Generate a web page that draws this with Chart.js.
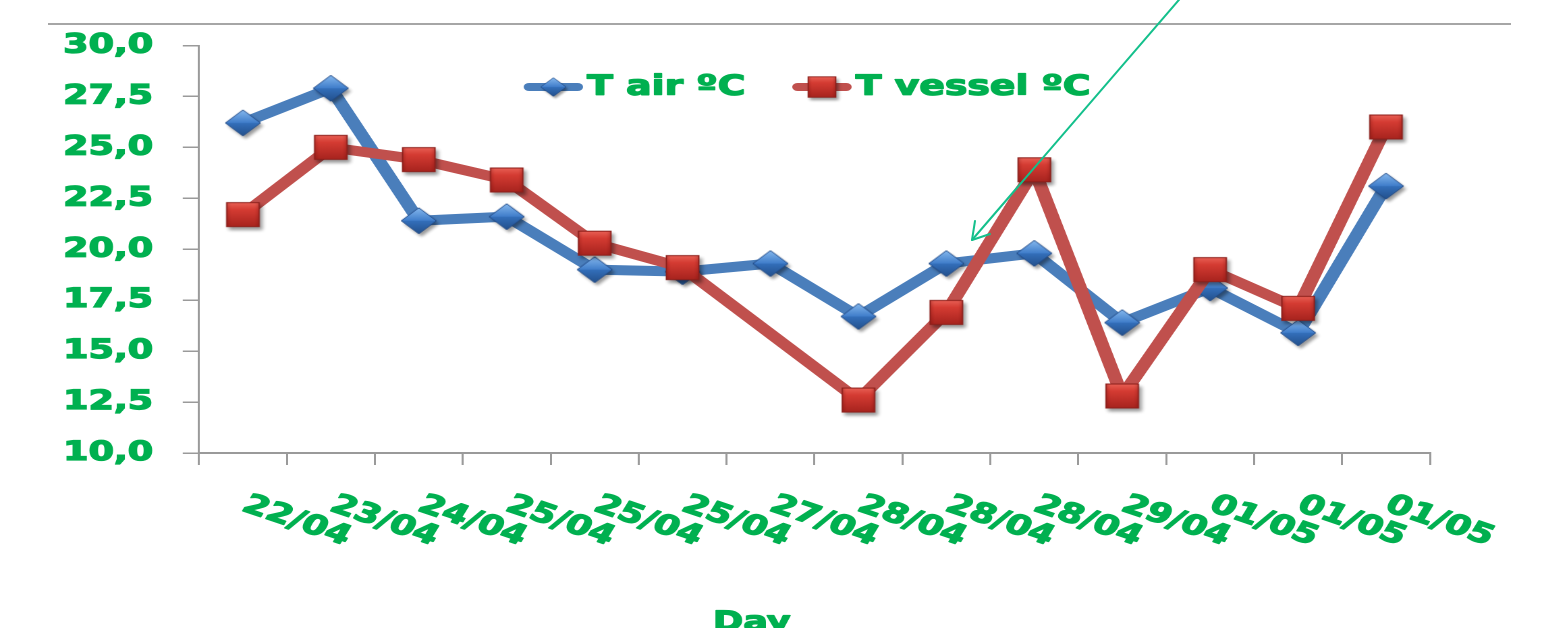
<!DOCTYPE html>
<html>
<head>
<meta charset="utf-8">
<title>T air / T vessel</title>
<script src="https://cdn.jsdelivr.net/npm/chart.js@4.4.1/dist/chart.umd.min.js"></script>
<style>
  html, body { margin: 0; padding: 0; background: #fff; overflow: hidden; }
  #stage { position: relative; width: 1544px; height: 628px; overflow: hidden; }
  /* the chart is laid out narrow and widened horizontally */
  #wrap { position: absolute; left: 0; top: 0; width: 1144px; height: 628px;
          transform-origin: 0 0; transform: scaleX(1.34965); }
  #overlay { position: absolute; left: 0; top: 0; pointer-events: none; }
</style>
</head>
<body>
<div id="stage">
  <div id="wrap"><canvas id="chart" width="1144" height="628"></canvas></div>
  <svg id="overlay" width="1544" height="628" viewBox="0 0 1544 628">
    <line x1="48" y1="24" x2="1511" y2="24" stroke="#a6a6a6" stroke-width="2"/>
    <g stroke="#14c08c" stroke-width="2" fill="none" stroke-linecap="round" stroke-linejoin="round">
      <line x1="1184" y1="-6" x2="972" y2="240"/>
      <polyline points="975,221 972,240 990,234"/>
    </g>
  </svg>
</div>
<script>
// Daily temperatures: air vs. vessel
const categories = ['22/04', '23/04', '24/04', '25/04', '25/04', '25/04', '27/04',
                    '28/04', '28/04', '28/04', '29/04', '01/05', '01/05', '01/05'];
const tAir    = [26.2, 27.9, 21.4, 21.6, 19.0, 18.9, 19.3, 16.7, 19.3, 19.8, 16.4, 18.1, 15.9, 23.1];
const tVessel = [21.7, 25.0, 24.4, 23.4, 20.3, 19.1, null, 12.6, 16.9, 23.9, 12.8, 19.0, 17.1, 26.0];
const yTickLabels = ['10,0', '12,5', '15,0', '17,5', '20,0', '22,5', '25,0', '27,5', '30,0'];
const seriesNames = ['T air ºC', 'T vessel ºC'];
const axisTitle = 'Day';

const GREEN = '#00B050';
const AXIS = '#9a9a9a';
const FONT = '"DejaVu Sans", sans-serif';
const HEAVY = 1.3; // extra stroke that makes the bold text heavier

// bevelled diamond marker with a drop shadow
function diamondMarker(r) {
  const pad = 7, s = Math.ceil(2 * (r + pad));
  const c = document.createElement('canvas');
  c.width = c.height = s;
  const g = c.getContext('2d');
  const m = s / 2;
  const path = () => {
    g.beginPath();
    g.moveTo(m, m - r); g.lineTo(m + r, m); g.lineTo(m, m + r); g.lineTo(m - r, m);
    g.closePath();
  };
  g.save();
  g.shadowColor = 'rgba(0,0,0,0.4)'; g.shadowBlur = 3; g.shadowOffsetX = 2; g.shadowOffsetY = 3;
  path(); g.fillStyle = '#2f64ad'; g.fill();
  g.restore();
  g.beginPath(); g.moveTo(m - r, m); g.lineTo(m, m - r); g.lineTo(m + r, m); g.closePath();
  let gr = g.createLinearGradient(0, m - r, 0, m);
  gr.addColorStop(0, '#86b8ee'); gr.addColorStop(1, '#3f7dca');
  g.fillStyle = gr; g.fill();
  g.beginPath(); g.moveTo(m - r, m); g.lineTo(m + r, m); g.lineTo(m, m + r); g.closePath();
  gr = g.createLinearGradient(0, m, 0, m + r);
  gr.addColorStop(0, '#3470bb'); gr.addColorStop(1, '#23508c');
  g.fillStyle = gr; g.fill();
  path(); g.strokeStyle = 'rgba(30,70,130,0.85)'; g.lineWidth = 1; g.stroke();
  return c;
}

// bevelled square marker with a drop shadow
function squareMarker(side) {
  const pad = 7, s = Math.ceil(side + 2 * pad);
  const c = document.createElement('canvas');
  c.width = c.height = s;
  const g = c.getContext('2d');
  const m = s / 2, h = side / 2;
  g.save();
  g.shadowColor = 'rgba(0,0,0,0.4)'; g.shadowBlur = 3; g.shadowOffsetX = 2; g.shadowOffsetY = 3;
  g.fillStyle = '#b3302b'; g.fillRect(m - h, m - h, side, side);
  g.restore();
  const gr = g.createLinearGradient(0, m - h, 0, m + h);
  gr.addColorStop(0, '#ea6257'); gr.addColorStop(0.3, '#d53c33'); gr.addColorStop(1, '#a6231e');
  g.fillStyle = gr; g.fillRect(m - h, m - h, side, side);
  const gx = g.createLinearGradient(m - h, 0, m + h, 0);
  gx.addColorStop(0, 'rgba(90,0,0,0.25)'); gx.addColorStop(0.15, 'rgba(90,0,0,0)');
  gx.addColorStop(0.85, 'rgba(90,0,0,0)'); gx.addColorStop(1, 'rgba(90,0,0,0.25)');
  g.fillStyle = gx; g.fillRect(m - h, m - h, side, side);
  g.strokeStyle = '#8c1f1b'; g.lineWidth = 1;
  g.strokeRect(m - h + 0.5, m - h + 0.5, side - 1, side - 1);
  return c;
}

const diamond = diamondMarker(13);
const square = squareMarker(25);

function heavyText(ctx, text, x, y) {
  ctx.fillText(text, x, y);
  ctx.strokeText(text, x, y);
}

// rotated category labels, axis title and legend
const decorations = {
  id: 'decorations',
  afterDraw(chart) {
    const { ctx } = chart;
    const x = chart.scales.x;
    ctx.save();
    ctx.fillStyle = GREEN;
    ctx.strokeStyle = GREEN;
    ctx.lineWidth = HEAVY;
    ctx.lineJoin = 'round';
    ctx.font = 'bold 27px ' + FONT;
    ctx.textAlign = 'left';
    ctx.textBaseline = 'alphabetic';
    x.ticks.forEach((t, i) => {
      ctx.save();
      ctx.translate(x.getPixelForTick(i) - 2, 510);
      ctx.rotate(24.5 * Math.PI / 180);
      heavyText(ctx, categories[i], 0, 0);
      ctx.restore();
    });

    ctx.textAlign = 'center';
    heavyText(ctx, axisTitle, 557, 630);

    // legend
    const items = [
      { x0: 388, img: diamond, k: 0.72 },
      { x0: 587, img: square, k: 0.85 }
    ];
    const ly = 87;
    ctx.font = 'bold 28px ' + FONT;
    ctx.textAlign = 'left';
    ctx.textBaseline = 'middle';
    chart.data.datasets.forEach((ds, i) => {
      const it = items[i];
      ctx.save();
      ctx.strokeStyle = ds.borderColor;
      ctx.lineWidth = 8;
      ctx.lineCap = 'round';
      ctx.beginPath();
      ctx.moveTo(it.x0 + 4, ly);
      ctx.lineTo(it.x0 + 40, ly);
      ctx.stroke();
      ctx.restore();
      const w = it.img.width * it.k;
      ctx.drawImage(it.img, it.x0 + 22 - w / 2, ly - w / 2, w, w);
      heavyText(ctx, ds.label, it.x0 + 47, ly);
    });
    ctx.restore();
  }
};

new Chart(document.getElementById('chart'), {
  type: 'line',
  data: {
    labels: categories,
    datasets: [
      {
        label: seriesNames[0],
        data: tAir,
        borderColor: '#4A7EBB',
        borderWidth: 10,
        borderJoinStyle: 'round',
        borderCapStyle: 'round',
        pointStyle: diamond,
        pointRadius: 13,
        tension: 0,
        order: 1
      },
      {
        label: seriesNames[1],
        data: tVessel,
        borderColor: '#C0504D',
        borderWidth: 10,
        borderJoinStyle: 'round',
        borderCapStyle: 'round',
        pointStyle: square,
        pointRadius: 13,
        spanGaps: true,
        tension: 0,
        order: 0
      }
    ]
  },
  options: {
    responsive: false,
    animation: false,
    devicePixelRatio: 2,
    events: [],
    layout: { padding: { top: 45.5, right: 84.5, left: 0, bottom: 0 } },
    plugins: { legend: { display: false }, tooltip: { enabled: false } },
    scales: {
      x: {
        offset: true,
        grid: { offset: true, drawOnChartArea: false, drawTicks: true, tickLength: 12, color: AXIS, lineWidth: 1.5 },
        border: { display: true, color: AXIS, width: 2 },
        ticks: { display: false },
        afterFit: (s) => { s.height = 175; }
      },
      y: {
        min: 10,
        max: 30,
        ticks: {
          stepSize: 2.5,
          color: GREEN,
          textStrokeColor: GREEN,
          textStrokeWidth: HEAVY,
          padding: 22,
          font: { family: FONT, size: 27, weight: 'bold' },
          callback: (v, i) => yTickLabels[i]
        },
        grid: { drawOnChartArea: false, drawTicks: true, tickLength: 12, color: AXIS, lineWidth: 1.5 },
        border: { display: true, color: AXIS, width: 1.5 },
        afterFit: (s) => { s.width = 147.4; }
      }
    }
  },
  plugins: [decorations]
});
</script>
</body>
</html>
